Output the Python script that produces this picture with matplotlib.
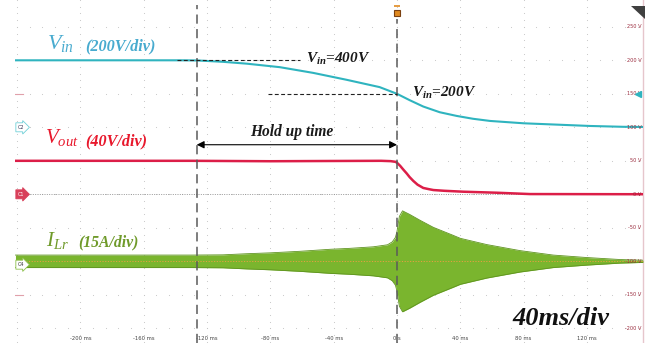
import matplotlib
matplotlib.use("Agg")
import matplotlib.pyplot as plt
import numpy as np
from matplotlib.patches import Polygon

plt.rcParams['font.family'] = ['Liberation Serif', 'DejaVu Sans']
plt.rcParams['mathtext.fontset'] = 'custom'
plt.rcParams['mathtext.rm'] = 'Liberation Serif'
plt.rcParams['mathtext.it'] = 'Liberation Serif:italic'
plt.rcParams['mathtext.bf'] = 'Liberation Serif:bold:italic'

# ---- captured waveforms (time in ms) ----
vin_t = [-241, -160, -135, -126, -110, -95, -74, -53, -32, -11, 0, 8, 16.6, 27,
         37.7, 48, 58.8, 80, 101, 122, 143, 155.4]
vin_v = [400, 400, 400, 399, 391, 380, 359, 325, 284, 240, 200, 162, 124, 90,
         68, 51, 38, 24, 16, 8, 3, 2]

vout_t = [-241, -130, -80, -40, -10, -4, -1, 0, 2, 4, 6.1, 8, 10.3, 13, 16.6,
          20, 23, 30, 42, 63, 84, 120, 155.4]
vout_v = [40, 40, 39.5, 39.8, 40, 39.6, 38.8, 37.7, 34, 29.5, 25, 20.5, 16, 11.5,
          7.6, 6.2, 5.1, 4.2, 3.1, 1.9, 0.3, 0.2, 0.1]

ilr_t = [-241, -130, -110, -95, -80, -61, -42, -30, -15, -6, -3, -1, 0, 1.5,
         3.5, 8, 14.5, 23, 35.6, 40, 56.7, 77.7, 98.7, 119.8, 141, 155.4]
ilr_amp = [2.8, 2.8, 2.9, 3.4, 3.8, 4.5, 5.4, 5.8, 6.5, 7.4, 8.7, 10.7, 13.4,
           20.1, 22.6, 21.0, 18.4, 15.2, 11.6, 10.3, 7.5, 4.8, 2.8, 1.7, 0.8, 0.5]

# channel scaling on the 50-unit graticule: volts (or amps) per division and ground level
vin_per_div, vin_gnd = 200.0, 100.0
vout_per_div, vout_gnd = 40.0, 0.0
ilr_per_div, ilr_gnd = 15.0, -100.0
div = 50.0

hold_start, hold_end = -126.5, 0.0
vin_mark_hi, vin_mark_lo = 400, 200

time_ticks = [-200, -160, -120, -80, -40, 0, 40, 80, 120]
time_labels = ['-200 ms', '-160 ms', '-120 ms', '-80 ms', '-40 ms', '0 s',
               '40 ms', '80 ms', '120 ms']
volt_ticks = [250, 200, 150, 100, 50, 0, -50, -100, -150, -200]
volt_labels = ['250 V', '200 V', '150 V', '100 V', '50 V', '0 V', '-50 V',
               '-100 V', '-150 V', '-200 V']


def vin_disp(v):
    return vin_gnd + np.asarray(v, float) / vin_per_div * div


def vout_disp(v):
    return vout_gnd + np.asarray(v, float) / vout_per_div * div


def ilr_disp(a):
    return np.asarray(a, float) / ilr_per_div * div


fig = plt.figure(figsize=(6.53, 3.43), dpi=100)
ax = fig.add_axes([15 / 653, 0, 628 / 653, 1])
ax.set_xlim(-241.3, 155.4)
ax.set_ylim(-221.9, 290)
for s in ['left', 'top', 'bottom']:
    ax.spines[s].set_visible(False)
ax.spines['right'].set_color('#e6c6cc')
ax.spines['right'].set_linewidth(1.0)
ax.set_xticks([])
ax.set_yticks([])

# graticule: dotted major lines
grid_x = np.arange(-240, 160, 40)
grid_y = np.arange(-200, 300, 50)
minor_x = np.arange(-240, 156, 8)
minor_y = np.arange(-220, 291, 10)
gx, gy = np.meshgrid(minor_x, grid_y)
ax.scatter(gx.ravel(), gy.ravel(), s=0.6, color='#c4c4c4', lw=0, zorder=1)
gx, gy = np.meshgrid(grid_x, minor_y)
ax.scatter(gx.ravel(), gy.ravel(), s=0.6, color='#c4c4c4', lw=0, zorder=1)

# ground reference of channel 1
ax.plot([-236, 155.4], [vout_gnd, vout_gnd], color='#8a8a8a', lw=0.6,
        ls=(0, (1.2, 1.6)), zorder=2)

# resonant current envelope
amp = ilr_disp(ilr_amp)
ax.fill_between(ilr_t, ilr_gnd - amp, ilr_gnd + amp, color='#7ab52e',
                lw=0, zorder=3)
ax.plot(ilr_t, ilr_gnd + amp, color='#5f9420', lw=0.6, zorder=3)
ax.plot(ilr_t, ilr_gnd - amp, color='#5f9420', lw=0.6, zorder=3)
ax.plot([-236, 155.4], [ilr_gnd, ilr_gnd], color='#e6a040', lw=0.7,
        ls=(0, (1.2, 1.6)), zorder=4)

# voltage traces
ax.plot(vin_t, vin_disp(vin_v), color='#2fb4bf', lw=1.5, zorder=5)
ax.plot(vout_t, vout_disp(vout_v), color='#dc1e48', lw=1.8, zorder=5)

# hold-up markers
for tx in (hold_start, hold_end):
    ax.plot([tx, tx], [-221.9, 283 if tx == hold_start else 262],
            color='#5a5a5a', lw=1.1, dashes=(6, 3.5), zorder=6)

y_hi = vin_disp(vin_mark_hi)
y_lo = vin_disp(vin_mark_lo)
ax.plot([-139, -61], [y_hi, y_hi], color='#222222', lw=0.8, dashes=(3.5, 2.2), zorder=6)
ax.plot([-81.5, 0], [y_lo, y_lo], color='#222222', lw=0.8, dashes=(3.5, 2.2), zorder=6)

bold_it = dict(fontweight='bold', fontstyle='italic')
ax.text(-57.5, y_hi - 4, r'$\mathbf{V}_{\mathbf{in}}$=%dV' % vin_mark_hi,
        fontsize=11, color='#1a1a1a', ha='left', va='baseline', zorder=7,
        **bold_it)
ax.text(9.3, y_lo - 4, r'$\mathbf{V}_{\mathbf{in}}$=%dV' % vin_mark_lo,
        fontsize=11, color='#1a1a1a', ha='left', va='baseline', zorder=7,
        **bold_it)

ax.annotate('', xy=(hold_start, 74), xytext=(hold_end, 74),
            arrowprops=dict(arrowstyle='<|-|>', color='black', lw=0.8,
                            mutation_scale=11, shrinkA=0, shrinkB=0), zorder=7)
ax.text((hold_start + hold_end) / 2 - 3, 87, 'Hold up time', fontsize=11.2,
        color='#1a1a1a', ha='center', va='baseline', zorder=7, **bold_it)

# channel labels
ax.text(-221, 217.6, r'$V_{in}$', fontsize=16, color='#48abcf',
        ha='left', va='baseline')
ax.text(-197, 215, '(200V/div)', fontsize=11.7, color='#48abcf',
        ha='left', va='baseline', **bold_it)
ax.text(-222.4, 76.6, r'$V_{out}$', fontsize=15, color='#e8182c',
        ha='left', va='baseline')
ax.text(-197, 73.5, '(40V/div)', fontsize=11.6, color='#e8182c',
        ha='left', va='baseline', **bold_it)
ax.text(-221.7, -77, r'$I_{Lr}$', fontsize=15, color='#6f9a2a',
        ha='left', va='baseline')
ax.text(-201.5, -78, '(15A/div)', fontsize=11.3, color='#6f9a2a',
        ha='left', va='baseline', **bold_it)

ax.text(72.6, -195, '40ms/div', fontsize=19, color='#111111',
        ha='left', va='baseline', **bold_it)

# axis annotations in scope style
for tv, tl in zip(time_ticks, time_labels):
    ax.text(tv, -214.7, tl, fontsize=3.8, color='#444444', ha='center',
            va='center', family='DejaVu Sans')
for vv, vl in zip(volt_ticks, volt_labels):
    ax.text(154.3, vv, vl, fontsize=3.6, color='#9a2a3c', ha='right',
            va='center', family='DejaVu Sans', zorder=8)

# channel ground markers
markers = [('C2', vin_gnd, 'white', '#70d0d8', '#335'),
           ('C1', vout_gnd, '#d8405a', '#d8405a', 'white'),
           ('C4', ilr_gnd - 5, 'white', '#8cc04a', '#333')]
for name, yv, fc, ec, tc in markers:
    ax.text(-239.5, yv, name, fontsize=3.6, color=tc, ha='left', va='center',
            family='DejaVu Sans', zorder=9,
            bbox=dict(boxstyle='rarrow,pad=0.4', fc=fc, ec=ec, lw=0.6))

# short reference ticks on the left edge
for yv in (150, -150):
    ax.plot([-241, -236.5], [yv, yv], color='#e0a0aa', lw=0.8, zorder=2)

# trigger level arrow and trigger position marker
ax.plot([152.3], [vin_disp(vin_mark_lo)], marker='<', ms=4.5, color='#2fb4bf',
        mec='#2fb4bf', zorder=9)
ax.plot([0], [270], marker='s', ms=5, color='#e08a20', mec='#7a4010', mew=0.8,
        zorder=9)
ax.plot([0], [281], marker='_', ms=5, color='#e08a20', mew=1.2, zorder=9)

# corner badge
ax.add_patch(Polygon([(147.6, 280.9), (156.5, 280.9), (156.5, 261.5)],
                     closed=True, fc='#404040', ec='none', zorder=9,
                     clip_on=False))

fig.savefig('out.png', dpi=100)
